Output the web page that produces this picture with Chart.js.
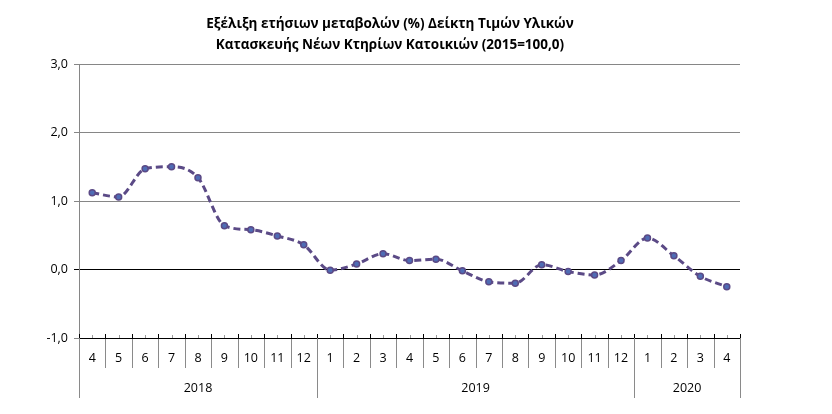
<!DOCTYPE html>
<html>
<head>
<meta charset="utf-8">
<script src="https://cdn.jsdelivr.net/npm/chart.js@4"></script>
<style>
html,body{margin:0;padding:0;background:#fff;}
#wrap{width:832px;height:414px;position:relative;}
</style>
</head>
<body>
<div id="wrap"><canvas id="c" width="832" height="414"></canvas></div>
<script>
const titleLines = ['Εξέλιξη ετήσιων μεταβολών (%) Δείκτη Τιμών Υλικών', 'Κατασκευής Νέων Κτηρίων Κατοικιών (2015=100,0)'];
const months = ['4','5','6','7','8','9','10','11','12','1','2','3','4','5','6','7','8','9','10','11','12','1','2','3','4'];
const years = ['2018','2019','2020'];
const yearSpans = [9, 12, 4];
const values = [1.12, 1.06, 1.47, 1.50, 1.34, 0.64, 0.58, 0.49, 0.36, -0.01, 0.08, 0.23, 0.13, 0.15, -0.02, -0.18, -0.20, 0.07, -0.03, -0.08, 0.13, 0.46, 0.20, -0.10, -0.25];
const yTicks = [-1, 0, 1, 2, 3];

const FONT = '"Open Sans", "Liberation Sans", sans-serif';

const axisPlugin = {
  id: 'axisPlugin',
  afterDraw(chart) {
    const ctx = chart.ctx;
    const x = chart.scales.x;
    const a = chart.chartArea;
    const n = months.length;
    const w = (x.getPixelForValue(1) - x.getPixelForValue(0));
    const yb = a.bottom;
    ctx.save();
    // title
    ctx.fillStyle = '#000';
    ctx.font = 'bold 13.5px ' + FONT;
    ctx.textAlign = 'center';
    ctx.textBaseline = 'middle';
    ctx.fillText(titleLines[0], 390, 24);
    ctx.fillText(titleLines[1], 390, 45);
    // axis line
    ctx.strokeStyle = '#000';
    ctx.lineWidth = 1;
    ctx.beginPath();
    ctx.moveTo(a.left, yb + 0.5);
    ctx.lineTo(a.right, yb + 0.5);
    ctx.stroke();
    // minor ticks at centers
    ctx.strokeStyle = '#9a9a9a';
    for (let i = 0; i < n; i++) {
      const px = Math.round(x.getPixelForValue(i)) + 0.5;
      ctx.beginPath();
      ctx.moveTo(px, yb - 3);
      ctx.lineTo(px, yb);
      ctx.stroke();
    }
    // boundary ticks
    for (let i = 0; i <= n; i++) {
      const px = Math.round(x.getPixelForValue(0) - w / 2 + i * w) + 0.5;
      ctx.strokeStyle = '#000';
      ctx.beginPath();
      ctx.moveTo(px, yb - 4);
      ctx.lineTo(px, yb + 1);
      ctx.stroke();
      ctx.strokeStyle = '#8a8a8a';
      ctx.beginPath();
      ctx.moveTo(px, yb + 1);
      ctx.lineTo(px, yb + 30);
      ctx.stroke();
    }
    // year separators
    let idx = 0;
    const bounds = [0];
    yearSpans.forEach(s => { idx += s; bounds.push(idx); });
    ctx.strokeStyle = '#8a8a8a';
    bounds.forEach(b => {
      const px = Math.round(x.getPixelForValue(0) - w / 2 + b * w) + 0.5;
      ctx.beginPath();
      ctx.moveTo(px, yb);
      ctx.lineTo(px, yb + 60);
      ctx.stroke();
    });
    // month labels
    ctx.fillStyle = '#000';
    ctx.font = '12.5px ' + FONT;
    ctx.textBaseline = 'middle';
    for (let i = 0; i < n; i++) {
      ctx.fillText(months[i], x.getPixelForValue(i), yb + 20);
    }
    // year labels
    for (let j = 0; j < years.length; j++) {
      const c = (bounds[j] + bounds[j + 1]) / 2;
      const px = x.getPixelForValue(0) - w / 2 + c * w;
      ctx.fillText(years[j], px, yb + 50);
    }
    ctx.restore();
  }
};

new Chart(document.getElementById('c'), {
  type: 'line',
  data: {
    labels: months,
    datasets: [{
      data: values,
      borderColor: '#5b4a86',
      borderWidth: 3,
      borderDash: [7, 4],
      tension: 0.4,
      cubicInterpolationMode: 'monotone',
      pointRadius: 3,
      pointBackgroundColor: '#4f6cb5',
      pointBorderColor: '#5b4a86',
      pointBorderWidth: 1.5,
      fill: false
    }]
  },
  options: {
    responsive: false,
    animation: false,
    devicePixelRatio: 1,
    layout: { padding: { top: 64, right: 92, bottom: 76, left: 0 } },
    plugins: { legend: { display: false }, title: { display: false }, tooltip: { enabled: false } },
    scales: {
      x: {
        type: 'category',
        offset: true,
        display: false
      },
      y: {
        min: -1, max: 3,
        afterFit(s) { s.width = 79; },
        afterBuildTicks(s) { s.ticks = yTicks.map(v => ({ value: v })); },
        grid: {
          color: ctx => (ctx.tick && ctx.tick.value === 0) ? '#000' : '#868686',
          lineWidth: 1,
          drawTicks: true,
          tickLength: 5
        },
        border: { display: true, color: '#868686' },
        ticks: {
          color: '#000',
          font: { family: FONT, size: 12.5 },
          padding: 6,
          callback: v => v.toFixed(1).replace('.', ',')
        }
      }
    }
  },
  plugins: [axisPlugin]
});
</script>
</body>
</html>
